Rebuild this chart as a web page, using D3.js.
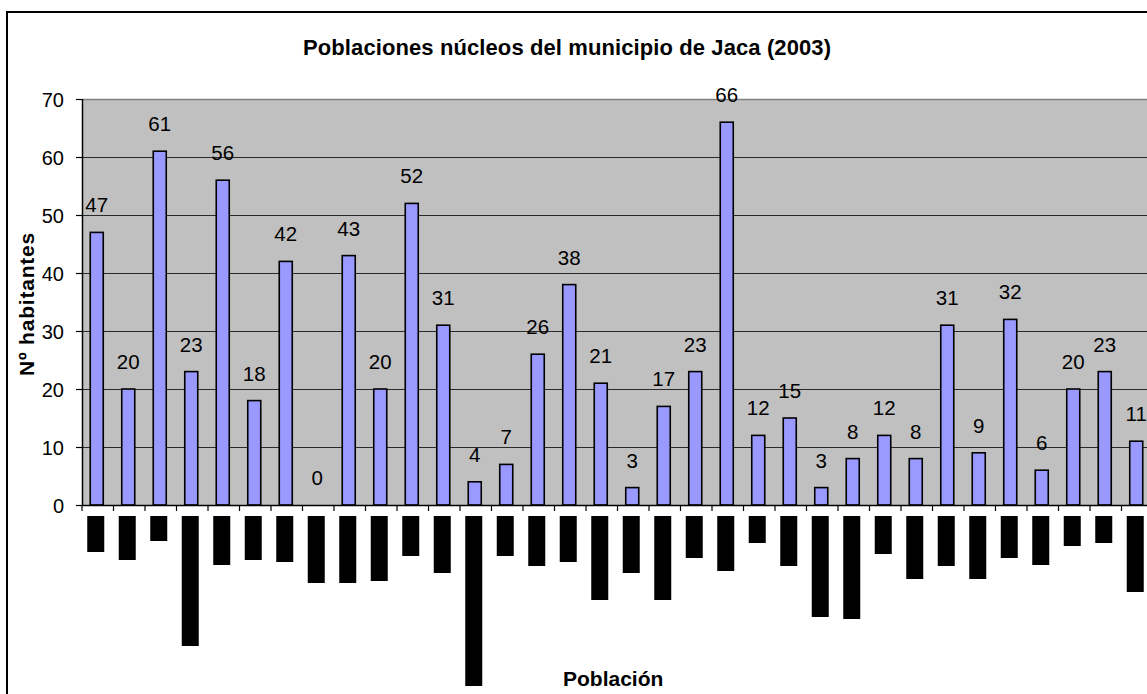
<!DOCTYPE html>
<html><head><meta charset="utf-8">
<script src="https://cdn.jsdelivr.net/npm/d3@7/dist/d3.min.js"></script>
<style>html,body{margin:0;padding:0;background:#fff;overflow:hidden}</style>
</head><body>
<svg id="chart" width="1147" height="694"></svg>
<script>
const title = "Poblaciones núcleos del municipio de Jaca (2003)";
const yTitle = "Nº habitantes";
const xTitle = "Población";
const yTicks = [0, 10, 20, 30, 40, 50, 60, 70];
// habitants per núcleo (34 núcleos)
const values = [47, 20, 61, 23, 56, 18, 42, 0, 43, 20, 52, 31, 4, 7, 26, 38, 21, 3, 17, 23, 66, 12, 15, 3, 8, 12, 8, 31, 9, 32, 6, 20, 23, 11];
// category labels are unreadable (rendered as solid black blocks); relative label lengths
const labelLengths = [36, 44, 25, 130, 49, 44, 46, 67, 67, 65, 40, 57, 170, 40, 50, 46, 84, 57, 84, 42, 55, 27, 50, 101, 103, 38, 63, 50, 63, 42, 49, 30, 27, 76];
const categories = values.map((d, i) => "N" + (i + 1));

(function () {
const svg = d3.select("#chart");
const font = "Arial, 'Liberation Sans', sans-serif";
const pL = 82, pR = 1153, pT = 99, pB = 505;

// outer chart border (cut by the window on the right and bottom)
svg.append("rect").attr("x", 7).attr("y", 12).attr("width", 1300).attr("height", 800)
  .attr("fill", "none").attr("stroke", "#000").attr("stroke-width", 2);

const x = d3.scaleBand().domain(categories).range([pL, pR]).padding(0);
const y = d3.scaleLinear().domain([0, 70]).range([pB, pT]);
const lenScale = d3.scaleLinear().domain([0, 1]).range([0, 1]);

// plot area
svg.append("rect").attr("x", pL).attr("y", pT).attr("width", pR - pL).attr("height", pB - pT)
  .attr("fill", "#c0c0c0");
svg.append("line").attr("x1", pL).attr("x2", pR).attr("y1", pT + 0.5).attr("y2", pT + 0.5)
  .attr("stroke", "#808080").attr("stroke-width", 1.5);

// gridlines
svg.append("g").selectAll("line").data(yTicks.filter(t => t > 0 && t < 70)).join("line")
  .attr("x1", pL).attr("x2", pR)
  .attr("y1", d => Math.round(y(d)) + 0.5).attr("y2", d => Math.round(y(d)) + 0.5)
  .attr("stroke", "#2a2a2a").attr("stroke-width", 1.2);

// bars
const bw = 13;
svg.append("g").selectAll("rect").data(values).join("rect")
  .attr("x", (d, i) => x(categories[i]) + x.bandwidth() / 2 - 1 - bw / 2)
  .attr("y", d => y(d))
  .attr("width", bw)
  .attr("height", d => y(0) - y(d))
  .attr("fill", d => d > 0 ? "#9999ff" : "none")
  .attr("stroke", d => d > 0 ? "#000" : "none")
  .attr("stroke-width", 1.6);

// value labels
svg.append("g").selectAll("text").data(values).join("text")
  .attr("x", (d, i) => x(categories[i]) + x.bandwidth() / 2 - 1)
  .attr("y", d => y(d) - 20)
  .attr("text-anchor", "middle")
  .attr("font-family", font).attr("font-size", 20.5).attr("fill", "#000")
  .text(d => d);

// y axis
const yAxis = d3.axisLeft(y).tickValues(yTicks).tickSize(6).tickPadding(12);
const gy = svg.append("g").attr("transform", `translate(${pL},0)`).call(yAxis);
gy.select(".domain").attr("stroke", "#000").attr("stroke-width", 1.5).attr("d", `M0.5,${pT}V${pB}`);
gy.selectAll(".tick line").attr("stroke", "#000").attr("stroke-width", 1.2);
gy.selectAll(".tick text").attr("font-family", font).attr("font-size", 20).attr("fill", "#000").attr("dy", "0.36em");

// x axis (ticks at band boundaries)
const gx = svg.append("g");
gx.append("line").attr("x1", pL).attr("x2", pR).attr("y1", pB + 0.5).attr("y2", pB + 0.5)
  .attr("stroke", "#000").attr("stroke-width", 1.5);
gx.selectAll("line.tk").data(categories).join("line").attr("class", "tk")
  .attr("x1", d => x(d)).attr("x2", d => x(d))
  .attr("y1", pB).attr("y2", pB + 6)
  .attr("stroke", "#000").attr("stroke-width", 1.2);

// category label blocks (labels rendered as solid black)
svg.append("g").selectAll("rect").data(labelLengths).join("rect")
  .attr("x", (d, i) => x(categories[i]) + x.bandwidth() / 2 - 2 - 8.5)
  .attr("y", 516)
  .attr("width", 17)
  .attr("height", d => lenScale(d))
  .attr("fill", "#000")
  .append("title").text((d, i) => categories[i]);

// titles
svg.append("text").attr("x", 303).attr("y", 55)
  .attr("font-family", font).attr("font-size", 22).attr("font-weight", "bold")
  .attr("letter-spacing", 0.1).text(title);

svg.append("text").attr("transform", "translate(34,304) rotate(-90)")
  .attr("text-anchor", "middle")
  .attr("font-family", font).attr("font-size", 21).attr("font-weight", "bold")
  .attr("letter-spacing", 0.8).text(yTitle);

svg.append("text").attr("x", 563).attr("y", 686)
  .attr("font-family", font).attr("font-size", 21).attr("font-weight", "bold")
  .text(xTitle);
})();
</script>
</body></html>
